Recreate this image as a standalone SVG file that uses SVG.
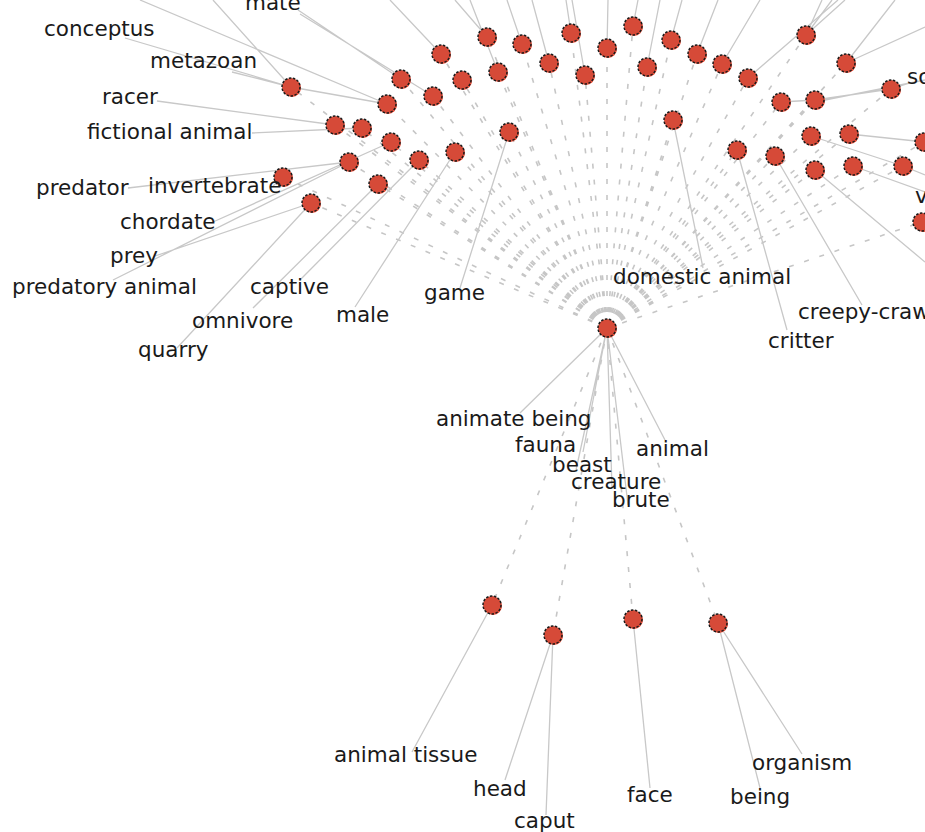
<svg xmlns="http://www.w3.org/2000/svg" width="925" height="832" viewBox="0 0 925 832">
<style>
.ray{stroke:#c6c6c6;stroke-width:1.6;stroke-dasharray:5 11;fill:none}
.ln{stroke:#c8c8c8;stroke-width:1.3;fill:none}
.sh{fill:#f2553f}
.nd{fill:#d64a38;stroke:#1a1a1a;stroke-width:1.5;stroke-dasharray:2.5 1.5}
text{font-family:"DejaVu Sans","Liberation Sans",sans-serif;font-size:21.5px;fill:#1a1a1a}
</style>
<defs>
<g id="dot"><circle class="sh" cx="1" cy="1" r="9"/><circle class="nd" r="9"/></g>
</defs>
<rect width="925" height="832" fill="#fff"/>
<g id="connectors">
<g id="rays">
<path class="ray" d="M607,328L291,87M607,328L441,54M607,328L487,37M607,328L522,44M607,328L571,33M607,328L607,48M607,328L633,26M607,328L671,40M607,328L697,54M607,328L722,64M607,328L748,78M607,328L806,35M607,328L846,63M607,328L891,89M607,328L401,79M607,328L462,80M607,328L498,72M607,328L549,63M607,328L585,75M607,328L647,67M607,328L387,104M607,328L433,96M607,328L335,125M607,328L362,128M607,328L391,142M607,328L349,162M607,328L419,160M607,328L455,152M607,328L509,132M607,328L283,177M607,328L378,184M607,328L311,203M607,328L673,120M607,328L737,150M607,328L775,156M607,328L781,102M607,328L815,100M607,328L811,136M607,328L849,134M607,328L815,170M607,328L853,166M607,328L903,166M607,328L922,222M607,328L924,142"/>
<path class="ray" d="M607,328L492,605M607,328L553,635M607,328L633,619M607,328L718,623"/>
</g>
<g id="links">
<path class="ln" d="M125,38L291,87M232,72L291,87M213,0L291,87M291,87L387,104M140,0L387,104M157,101L335,125M252,133L362,128"/>
<path class="ln" d="M128,188L349,162M273,186L283,177M213,222L391,142M155,256L311,203M113,280L349,162M177,348L311,203M253,308L378,184M300,280L419,160M355,307L455,152M460,288L509,132"/>
<path class="ln" d="M298,10L401,79M300,14L433,96M390,0L441,54M455,0L487,37M470,0L498,72M507,0L522,44M532,0L549,63M566,0L571,33M572,0L585,75M608,0L607,48M638,0L633,26M660,0L647,67M682,0L671,40M718,0L697,54M760,0L722,64M838,0L748,78"/>
<path class="ln" d="M822,0L806,35M832,0L806,35M845,0L806,35M895,0L846,63M846,63L925,27M891,89L910,83M815,100L891,89M815,102L925,80M781,102L815,100M849,134L925,142M811,136L903,166L925,175M853,166L925,192M815,170L925,262"/>
<path class="ln" d="M673,120L703,268M737,150L787,330M775,156L862,305"/>
<path class="ln" d="M607,328L520,413M607,328L583,452M607,328L576,470M607,328L612,488M607,328L628,505M607,328L665,440"/>
<path class="ln" d="M492,605L412,752M553,635L505,780M553,635L546,815M633,619L650,788M718,623L802,754M718,623L760,788"/>
</g>
</g>
<g id="nodes">
<g id="n1"><use href="#dot" x="291" y="87"/></g>
<g id="n2"><use href="#dot" x="441" y="54"/></g>
<g id="n3"><use href="#dot" x="487" y="37"/></g>
<g id="n4"><use href="#dot" x="522" y="44"/></g>
<g id="n5"><use href="#dot" x="571" y="33"/></g>
<g id="n6"><use href="#dot" x="607" y="48"/></g>
<g id="n7"><use href="#dot" x="633" y="26"/></g>
<g id="n8"><use href="#dot" x="671" y="40"/></g>
<g id="n9"><use href="#dot" x="697" y="54"/></g>
<g id="n10"><use href="#dot" x="722" y="64"/></g>
<g id="n11"><use href="#dot" x="748" y="78"/></g>
<g id="n12"><use href="#dot" x="806" y="35"/></g>
<g id="n13"><use href="#dot" x="846" y="63"/></g>
<g id="n14"><use href="#dot" x="891" y="89"/></g>
<g id="n15"><use href="#dot" x="401" y="79"/></g>
<g id="n16"><use href="#dot" x="462" y="80"/></g>
<g id="n17"><use href="#dot" x="498" y="72"/></g>
<g id="n18"><use href="#dot" x="549" y="63"/></g>
<g id="n19"><use href="#dot" x="585" y="75"/></g>
<g id="n20"><use href="#dot" x="647" y="67"/></g>
<g id="n21"><use href="#dot" x="387" y="104"/></g>
<g id="n22"><use href="#dot" x="433" y="96"/></g>
<g id="n23"><use href="#dot" x="335" y="125"/></g>
<g id="n24"><use href="#dot" x="362" y="128"/></g>
<g id="n25"><use href="#dot" x="391" y="142"/></g>
<g id="n26"><use href="#dot" x="349" y="162"/></g>
<g id="n27"><use href="#dot" x="419" y="160"/></g>
<g id="n28"><use href="#dot" x="455" y="152"/></g>
<g id="n29"><use href="#dot" x="509" y="132"/></g>
<g id="n30"><use href="#dot" x="283" y="177"/></g>
<g id="n31"><use href="#dot" x="378" y="184"/></g>
<g id="n32"><use href="#dot" x="311" y="203"/></g>
<g id="n33"><use href="#dot" x="673" y="120"/></g>
<g id="n34"><use href="#dot" x="737" y="150"/></g>
<g id="n35"><use href="#dot" x="775" y="156"/></g>
<g id="n36"><use href="#dot" x="781" y="102"/></g>
<g id="n37"><use href="#dot" x="815" y="100"/></g>
<g id="n38"><use href="#dot" x="811" y="136"/></g>
<g id="n39"><use href="#dot" x="849" y="134"/></g>
<g id="n40"><use href="#dot" x="815" y="170"/></g>
<g id="n41"><use href="#dot" x="853" y="166"/></g>
<g id="n42"><use href="#dot" x="903" y="166"/></g>
<g id="n43"><use href="#dot" x="922" y="222"/></g>
<g id="n44"><use href="#dot" x="924" y="142"/></g>
<g id="center"><use href="#dot" x="607" y="328"/></g>
<g id="b1"><use href="#dot" x="492" y="605"/></g>
<g id="b2"><use href="#dot" x="553" y="635"/></g>
<g id="b3"><use href="#dot" x="633" y="619"/></g>
<g id="b4"><use href="#dot" x="718" y="623"/></g>
</g>
<g id="labels">
<text x="245" y="10">mate</text>
<text x="44" y="36">conceptus</text>
<text x="150" y="68">metazoan</text>
<text x="102" y="104">racer</text>
<text x="87" y="139">fictional animal</text>
<text x="36" y="195">predator</text>
<text x="148" y="193">invertebrate</text>
<text x="120" y="229">chordate</text>
<text x="110" y="263">prey</text>
<text x="12" y="294">predatory animal</text>
<text x="250" y="294">captive</text>
<text x="192" y="328">omnivore</text>
<text x="138" y="357">quarry</text>
<text x="336" y="322">male</text>
<text x="424" y="300">game</text>
<text x="613" y="284">domestic animal</text>
<text x="798" y="319">creepy-crawly</text>
<text x="768" y="348">critter</text>
<text x="907" y="84">so</text>
<text x="915" y="203">v</text>
<text x="436" y="426">animate being</text>
<text x="515" y="452">fauna</text>
<text x="552" y="472">beast</text>
<text x="571" y="489">creature</text>
<text x="612" y="507">brute</text>
<text x="636" y="456">animal</text>
<text x="334" y="762">animal tissue</text>
<text x="473" y="796">head</text>
<text x="514" y="828">caput</text>
<text x="627" y="802">face</text>
<text x="730" y="804">being</text>
<text x="752" y="770">organism</text>
</g>
</svg>
